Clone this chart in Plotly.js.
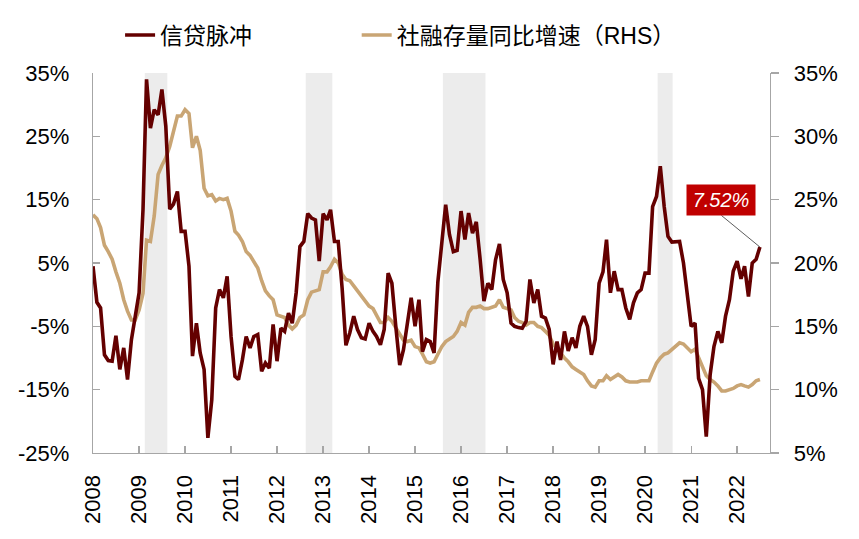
<!DOCTYPE html>
<html>
<head>
<meta charset="utf-8">
<script src="https://cdn.plot.ly/plotly-3.0.1.min.js"></script>
<style>
html,body{margin:0;padding:0;background:#fff;}
#chart{width:859px;height:539px;}
</style>
</head>
<body>
<div id="chart"></div>
<script>
// ---- data (monthly, starting Jan 2008) ----
const startYear = 2008;
const seriesNames = ['信贷脉冲', '社融存量同比增速（RHS）'];
const creditImpulse = [
  4.5, -1.2, -2.1, -9.5, -10.4, -10.5, -6.5, -11.8, -8.4, -13.4, -7.1, -3.7,
  0.3, 13.4, 34, 26.3, 29.2, 28.4, 32.4, 26.6, 13.5, 14.3, 16.3, 10,
  10, 4.5, -9.7, -4.5, -9.2, -11.8, -22.6, -16.6, -2.1, 0.8, -0.5, 2.9,
  -6.6, -12.9, -13.4, -10.3, -6.6, -8.4, -6.6, -6.3, -12.1, -10.8, -11.6, -4.7,
  -10.5, -5.3, -5.8, -2.9, -4.5, 0.3, 7.6, 8.4, 12.8, 12.1, 11.8, 5.3,
  12.8, 11.8, 13.4, 8.4, 8.4, 1, -8, -6, -3.4, -5.5, -6.8, -7,
  -4.5, -5.8, -6.6, -7.9, -5.5, 3.4, 1.8, -5, -11.1, -8.7, -4.5, -0.5,
  -5, -0.8, -9, -7.1, -7.4, -9.2, 2, 8.5, 14.2, 9.5, 6.8, 7,
  13.2, 8.7, 12.9, 9.7, 11.5, 5.5, -1, 1.8, 0.8, 5.5, 8, 2.4,
  0.3, -4.5, -5, -5.2, -5.3, -4.2, 2.4, -1.3, 0.8, -3.4, -3.7, -5.5,
  -11, -7.4, -10.3, -5.8, -8.9, -6.8, -8.4, -5, -3.4, -5, -9.5, -7.1,
  1.8, 3.6, 8.7, 0.3, 3.7, 0.8, 0.8, -2.1, -3.9, -1.3, 0.3, 0.8,
  3.4, 3.4, 13.9, 15.5, 20.3, 13.9, 9.2, 8.3, 8.4, 8.4, 5, 0.3,
  -5, -4.5, -13.2, -15, -22.4, -12.6, -8.2, -5.8, -7.6, -3.4, -0.8, 3.7,
  5.3, 2.5, 4.5, -0.3, 5, 5.6, 7.52
];
const tsfGrowth = [
  23.8, 23.5, 22.8, 21.4, 20.9, 20.3, 19.3, 18.4, 17.1, 16.2, 15.5, 15.5,
  16.3, 17.6, 21.8, 21.7, 23.7, 27, 27.7, 28.3, 29.2, 30.4, 31.6, 31.6,
  32.1, 31.8, 29.1, 30, 28.9, 25.9, 25.3, 25.4, 24.9, 25.1, 25, 25.1,
  24.1, 22.5, 22.2, 21.7, 20.9, 20.6, 20.1, 19.6, 18.6, 17.8, 17.4, 17.1,
  15.9, 15.8, 15.7, 15.1, 14.8, 15.1, 15.7, 15.9, 17.1, 17.7, 17.8, 17.9,
  19.3, 19.3, 19.7, 20.3, 20, 19.1, 18.7, 18.6, 18.2, 17.8, 17.5, 17,
  16.6, 16.4, 15.8, 15.3, 15.3, 15.7, 15.4, 14.9, 14.3, 13.9, 13.8, 13.9,
  13.4, 13.3, 12.8, 12.2, 12.1, 12.2, 12.8, 13.4, 13.8, 14, 14.2, 14.6,
  15.3, 15.1, 16.1, 16.5, 16.5, 16.6, 16.4, 16.4, 16.5, 16.6, 17.1, 16.5,
  16.4, 16.3, 15.7, 15.4, 15.3, 15.1, 15.3, 15.3, 15, 14.9, 14.6, 14.3,
  13.6, 13.2, 12.8, 12.5, 12.2, 11.8, 11.6, 11.4, 11.2, 10.7, 10.3, 10.2,
  10.7, 10.7, 11.1, 10.8, 11, 11.2, 11, 10.7, 10.6, 10.6, 10.6, 10.7,
  10.7, 10.7, 11.4, 12.1, 12.5, 12.8, 12.9, 13.2, 13.5, 13.7, 13.6, 13.3,
  13, 13.2, 12.5, 11.7, 11.1, 10.8, 10.6, 10.3, 9.9, 9.9, 10, 10.1,
  10.3, 10.4, 10.3, 10.2, 10.4, 10.7, 10.8
];
const yearLabels = ['2008','2009','2010','2011','2012','2013','2014','2015','2016','2017','2018','2019','2020','2021','2022'];
const shadedPeriods = [
  ['2009-02-15', '2009-08-13'],
  ['2012-08-16', '2013-03-15'],
  ['2015-08-10', '2016-07-13'],
  ['2020-04-10', '2020-08-07']
];
const leftTicks = [35, 25, 15, 5, -5, -15, -25];
const rightTicks = [35, 30, 25, 20, 15, 10, 5];

// ---- build ----
function pad(n){ return (n < 10 ? '0' : '') + n; }
const dates = creditImpulse.map((_, i) => (startYear + Math.floor(i / 12)) + '-' + pad(i % 12 + 1) + '-01');
const lastIdx = creditImpulse.length - 1;

const FONT = 'Liberation Sans, Arial, Noto Sans CJK SC, sans-serif';
const AXIS_COLOR = '#a6a6a6';

const traces = [
  {
    x: dates, y: creditImpulse, name: seriesNames[0], type: 'scatter', mode: 'lines',
    yaxis: 'y2', line: {color: '#640000', width: 3.6}, hoverinfo: 'skip', legend: 'legend'
  },
  {
    x: dates, y: tsfGrowth, name: seriesNames[1], type: 'scatter', mode: 'lines',
    yaxis: 'y', line: {color: '#c9a574', width: 3.6}, hoverinfo: 'skip', legend: 'legend2'
  }
];

const shapes = shadedPeriods.map(p => ({
  type: 'rect', xref: 'x', yref: 'paper', x0: p[0], x1: p[1], y0: 0, y1: 1,
  fillcolor: '#ececec', line: {width: 0}, layer: 'below'
}));

const legendCommon = {
  orientation: 'h', xanchor: 'left', y: 1.1, yanchor: 'middle',
  font: {family: FONT, size: 23, color: '#000'}, bgcolor: 'rgba(0,0,0,0)'
};

const layout = {
  width: 859, height: 539,
  margin: {l: 93, r: 89, t: 73, b: 86},
  paper_bgcolor: '#ffffff', plot_bgcolor: '#ffffff',
  font: {family: FONT, color: '#000000', size: 22},
  showlegend: true,
  legend: Object.assign({}, legendCommon, {x: 0.04}),
  legend2: Object.assign({}, legendCommon, {x: 0.3895}),
  xaxis: {
    type: 'date', range: ['2008-01-01', '2022-09-19'], anchor: 'y',
    tickvals: yearLabels.map(y => y + '-01-01'), ticktext: yearLabels,
    tickangle: -90, ticks: 'inside', ticklen: 7, tickcolor: AXIS_COLOR, tickwidth: 1.3,
    showline: true, linecolor: AXIS_COLOR, linewidth: 1.3, showgrid: false, zeroline: false,
    tickfont: {family: FONT, size: 22, color: '#000'}, ticklabelstandoff: 12
  },
  yaxis: {
    side: 'right', range: [5, 35], tickvals: rightTicks, ticktext: rightTicks.map(v => v + '%'),
    ticks: 'outside', ticklen: 8, tickcolor: AXIS_COLOR, tickwidth: 1.3,
    showline: true, linecolor: AXIS_COLOR, linewidth: 1.3, showgrid: false, zeroline: false,
    tickfont: {family: FONT, size: 22, color: '#000'}, ticklabelstandoff: 10
  },
  yaxis2: {
    side: 'left', overlaying: 'y', range: [-25, 35], tickvals: leftTicks, ticktext: leftTicks.map(v => v + '%'),
    ticks: 'inside', ticklen: 7, tickcolor: AXIS_COLOR, tickwidth: 1.3,
    showline: true, linecolor: AXIS_COLOR, linewidth: 1.3, showgrid: false, zeroline: false,
    tickfont: {family: FONT, size: 22, color: '#000'}, ticklabelstandoff: 18
  },
  shapes: shapes,
  annotations: [
    {
      x: dates[lastIdx], y: creditImpulse[lastIdx], xref: 'x', yref: 'y2',
      text: '', showarrow: true, arrowhead: 0, arrowwidth: 0.8, arrowcolor: '#333333',
      ax: -39, ay: -32, standoff: 0, startstandoff: 0, borderpad: 0
    },
    {
      x: dates[lastIdx], y: creditImpulse[lastIdx], xref: 'x', yref: 'y2',
      text: '<i>' + creditImpulse[lastIdx].toFixed(2) + '%</i>', showarrow: false,
      xshift: -39, yshift: 47, width: 68, height: 30, borderpad: 0,
      bgcolor: '#c00000', font: {family: FONT, size: 20, color: '#ffffff'}
    }
  ]
};

Plotly.newPlot('chart', traces, layout, {staticPlot: true, displayModeBar: false});
</script>
</body>
</html>
